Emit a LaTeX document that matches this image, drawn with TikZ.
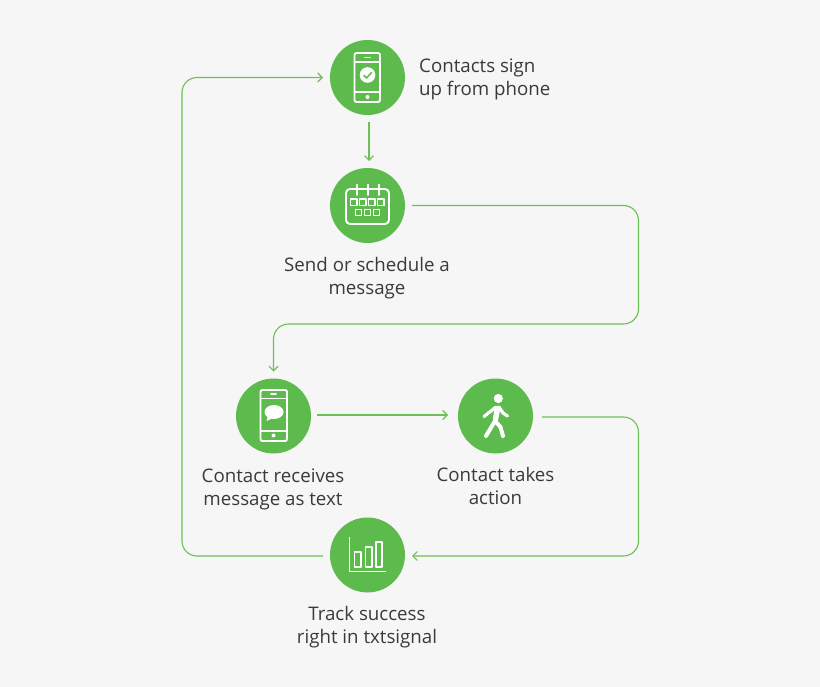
\documentclass[tikz,border=0pt]{standalone}
\usepackage{fontspec}
\setmainfont{Open Sans}
\usetikzlibrary{arrows.meta}
\definecolor{bgc}{HTML}{F6F6F6}
\definecolor{gc}{HTML}{5DBA4C}
\definecolor{lc}{HTML}{6CC055}
\definecolor{tc}{HTML}{3A3A3A}
\tikzset{
  circ/.style={circle,fill=gc,minimum size=75pt,inner sep=0pt,outer sep=7pt},
  lab/.style={text=tc,font=\fontsize{18.7}{23}\selectfont,align=center,inner sep=0pt},
  conn/.style={draw=lc,line width=1.1pt,-{Straight Barb[length=4.5pt,width=9pt,line width=1.1pt]},rounded corners=15pt},
  ico/.style={draw=white,line width=1.9pt,line join=round,line cap=round}
}
\begin{document}
\begin{tikzpicture}[x=1pt,y=-1pt]
\useasboundingbox (0,0) rectangle (820,687);
\fill[bgc] (0,0) rectangle (820,687);
% circles
\node[circ] (a) at (367.5,77.5) {};
\node[circ] (b) at (367.5,205.5) {};
\node[circ] (c) at (273.5,416) {};
\node[circ] (d) at (495.5,416) {};
\node[circ] (e) at (367.5,555) {};
% labels
\node[lab,anchor=west,align=left] (la) at (419,79.5) {Contacts sign\\up from phone};
\node[lab] (lb) at (367,278) {Send or schedule a\\message};
\node[lab] (lc1) at (273,489.5) {Contact receives\\message as text};
\node[lab] (ld) at (495.5,485.5) {Contact takes\\action};
\node[lab] (le) at (367,627) {Track success\\right in txtsignal};
% connector bends
\coordinate (b1) at (638.5,205.5);
\coordinate (b2) at (638.5,324);
\coordinate (b3) at (273.5,324);
\coordinate (d1) at (638.5,417);
\coordinate (d2) at (638.5,556);
\coordinate (e1) at (182,556);
\coordinate (e2) at (182,77.5);
% connectors
\draw[conn] ([xshift=1.5pt]a.south) -- ([xshift=1.5pt]b.north);
\draw[conn] (b.east) -- (b1) -- (b2) -- (b3) -- (c.north);
\draw[conn,shorten >=3pt] ([yshift=1pt,xshift=-1pt]c.east) -- ([yshift=1pt]d.west);
\draw[conn] ([xshift=2pt,yshift=-1pt]d.east) -- (d1) -- (d2) -- ([yshift=-1pt]e.east);
\draw[conn] ([yshift=-1pt]e.west) -- (e1) -- (e2) -- (a.west);
% phone icon with check
\draw[ico,rounded corners=2pt] (354.5,53) rectangle (380,102);
\draw[ico] (354.5,62) -- (380,62) (354.5,92) -- (380,92);
\draw[ico] (365,57.5) -- (370,57.5);
\fill[white] (367.5,97) circle (2);
\fill[white] (367.5,75) circle (7.8);
\draw[gc,line width=1.5pt,line cap=round,line join=round] (363.8,75.3) -- (366.5,78) -- (371.5,72.6);
% calendar icon
\draw[ico,rounded corners=4pt] (346,189) rectangle (389,224);
\draw[ico] (357,184.5) -- (357,195) (368,184.5) -- (368,195) (379,184.5) -- (379,195);
\foreach \x in {350.5,359.5,368.5,377.5} \draw[ico,line width=1.6pt] (\x,199) rectangle ++(6.5,6.5);
\foreach \x in {355.5,364.5,373.5} \draw[ico,line width=1.6pt] (\x,209.5) rectangle ++(6,6);
% phone icon with bubble
\draw[ico,rounded corners=2pt] (260.5,390) rectangle (287,441);
\draw[ico] (260.5,398.5) -- (287,398.5) (260.5,431) -- (287,431);
\draw[ico] (271,394) -- (276,394);
\fill[white] (273.5,435.5) circle (2);
\fill[white] (274,412) ellipse (9.5 and 7);
\fill[white] (268,416) -- (266.5,421) -- (273,418) -- cycle;
% walker icon
\fill[white] (498.3,398.5) circle (4.6);
\draw[ico,line width=5.5pt] (497.5,408.5) -- (495.5,419);
\draw[ico,line width=4pt] (495,421) -- (486,436);
\draw[ico,line width=4pt] (495,421) -- (500.5,427) -- (503,436);
\draw[ico,line width=3.2pt] (496,407) -- (484,416.5);
\draw[ico,line width=3.2pt] (499,407) -- (503,413) -- (507.5,416);
% chart icon
\draw[ico,line cap=butt] (349.5,537) -- (349.5,571.5) -- (386,571.5);
\draw[ico] (354.5,552) rectangle (361,567);
\draw[ico] (365.5,547) rectangle (372,567);
\draw[ico] (376,542) rectangle (382,567);
\end{tikzpicture}
\end{document}
